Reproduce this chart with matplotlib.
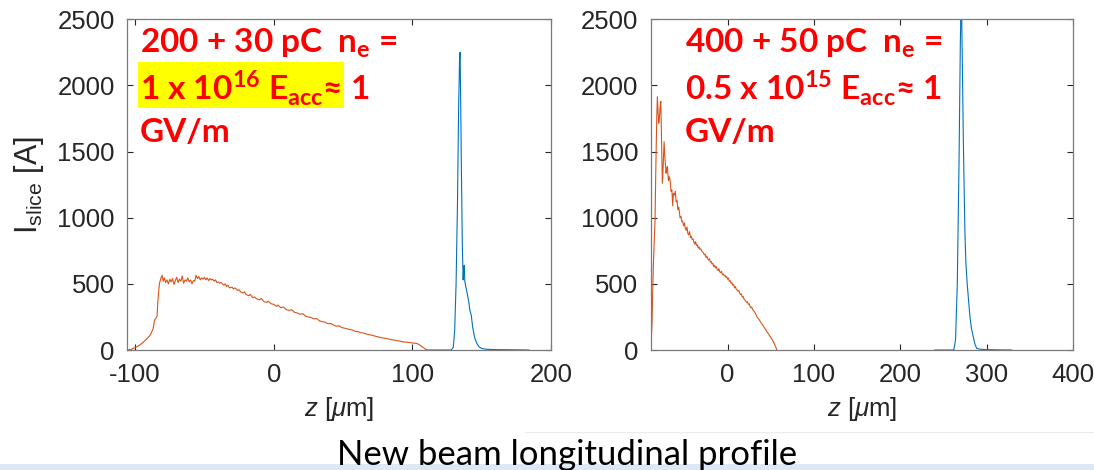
import matplotlib
matplotlib.use('Agg')
import matplotlib.pyplot as plt
from matplotlib.patches import Rectangle
from matplotlib.lines import Line2D

# ---- data ----
# left panel: 200 + 30 pC
drive_z_a = [-105.6, -103, -100, -97, -94, -91, -89, -87, -86, -85, -84.2, -83.5, -82.5, -81.5,
             -80.5, -79.8, -79, -78, -77, -76, -75, -74, -73, -72, -71, -70, -69, -68, -67, -66,
             -65, -64, -63, -62, -61, -60, -59, -58, -57, -56, -55, -54, -53, -52, -51, -50, -49,
             -48, -47, -46, -45, -44, -43, -42, -41, -40, -39, -38, -36, -35, -34, -33, -32, -30,
             -29, -28, -26, -25, -24, -22, -21, -20, -18, -17, -15, -14, -12, -10, -9, -7, -5, -4,
             -2, 0, 2, 3, 5, 7, 9, 11, 13, 15, 17, 19, 21, 23, 25, 27, 29, 31, 33, 35, 37, 39, 41,
             43, 45, 47, 49, 51, 53, 55, 57, 59, 61, 63, 65, 67, 69, 71, 73, 75, 77, 79, 81, 83, 85,
             87, 89, 91, 93, 95, 97, 99, 101, 103, 105, 107, 109, 110]
drive_i_a = [0, 5, 18, 35, 60, 90, 115, 160, 225, 240, 255, 380, 500, 540,
             565, 520, 545, 510, 530, 500, 535, 515, 540, 495, 525, 550, 510, 535, 520, 560,
             505, 530, 520, 545, 515, 530, 500, 525, 520, 565, 540, 555, 530, 545, 535, 550, 530,
             545, 525, 540, 530, 535, 520, 530, 510, 515, 505, 510, 490, 500, 480, 490, 470, 475,
             460, 470, 450, 455, 440, 430, 440, 420, 410, 420, 395, 400, 385, 380, 390, 365, 360, 370,
             350, 345, 330, 340, 320, 325, 305, 300, 305, 285, 280, 270, 275, 255, 250, 245, 235, 238,
             220, 215, 210, 200, 200, 190, 180, 183, 170, 165, 160, 155, 150, 140, 138, 130, 128, 120,
             115, 112, 105, 100, 95, 90, 88, 82, 78, 75, 70, 68, 62, 60, 58, 55, 52, 50, 40, 25, 10, 0]

witness_z_a = [110, 128, 129.5, 130.5, 131.5, 132.5, 133.3, 134, 134.4, 134.8, 135.3, 136, 136.6,
               137, 137.4, 137.8, 138.5, 139.5, 140.5, 141.5, 142.5, 143.5, 145, 146.5, 148, 150,
               153, 160, 170, 184]
witness_i_a = [0, 0, 20, 150, 500, 1100, 1800, 2200, 2250, 1900, 1400, 800, 530,
               610, 640, 520, 480, 430, 370, 300, 260, 170, 90, 50, 25, 12,
               6, 3, 2, 0]

# right panel: 400 + 50 pC
drive_z_b = [-89, -87.5, -86, -85, -84, -83, -82, -81.3, -80.5, -79.7, -79, -78, -77.3, -76.5,
             -75.5, -74.5, -73.5, -72.5, -71.2, -70.5, -69.7, -68.5, -67.5, -66.6, -65.5, -64.5,
             -63.5, -62.7, -61.5, -60.5, -59.5, -58.5, -57.5, -56.5,
             -55, -54, -53, -52, -51, -50, -49, -48, -47, -46, -45, -44, -43, -42, -41, -40, -39,
             -38, -37, -36, -35, -34, -33, -32, -31, -30, -29, -28, -27, -26, -25, -24, -23, -22,
             -21, -20, -19, -18, -17, -16, -15, -14, -13, -12, -11, -10, -9, -8, -7, -6, -5, -4,
             -3, -2, -1, 0, 1, 2, 3, 4, 5, 6, 7, 8, 9, 10, 11, 12, 13, 14, 15, 16, 17, 18, 19, 20,
             21, 22, 23, 24, 25, 26, 27, 28, 29, 30, 31, 32, 33, 34, 36, 38, 40, 42, 44, 46, 48,
             50, 52, 54, 56, 57]
drive_i_b = [0, 200, 630, 800, 980, 1400, 1750, 1915, 1800, 1714, 1750, 1850, 1880, 1600,
             1260, 1400, 1575, 1450, 1336, 1370, 1386, 1280, 1310, 1285, 1200, 1210,
             1090, 1185, 1170, 1200, 1120, 1130, 1060, 1080,
             1000, 1010, 970, 975, 940, 960, 920, 905, 930, 880, 870, 895, 850, 860, 835, 840, 815,
             800, 820, 790, 795, 770, 780, 760, 765, 750, 740, 735, 720, 725, 700, 710, 690, 680,
             690, 665, 670, 650, 655, 630, 640, 620, 630, 610, 600, 615, 590, 585, 595, 570, 575, 560,
             565, 550, 555, 535, 545, 520, 525, 505, 510, 490, 495, 470, 480, 460, 455, 445, 450, 430,
             420, 425, 400, 405, 385, 380, 370, 360, 365, 345, 350, 330, 320, 325, 305, 300, 290, 280,
             265, 250, 235, 215, 195, 175, 155, 135, 115, 95, 75, 50, 20, 0]

witness_z_b = [240, 262, 264, 266, 268, 269.5, 270.6, 271.8, 272.9, 274, 274.9, 276, 277.5, 279,
               280.7, 282.5, 284.5, 286.5, 288.4, 292, 300, 315, 329]
witness_i_b = [0, 0, 80, 500, 1400, 2300, 2750, 2200, 1640, 1200, 880, 650, 500, 380,
               250, 160, 100, 45, 13, 6, 3, 1, 0]

y_ticks = [0, 500, 1000, 1500, 2000, 2500]
x_ticks_a = [-100, 0, 100, 200]
x_ticks_b = [0, 100, 200, 300, 400]

plt.rcParams['font.family'] = ['Liberation Sans', 'DejaVu Sans']
plt.rcParams['axes.unicode_minus'] = False
plt.rcParams['mathtext.fontset'] = 'custom'
plt.rcParams['mathtext.rm'] = 'Liberation Sans'
plt.rcParams['mathtext.it'] = 'Liberation Sans:italic'
plt.rcParams['mathtext.bf'] = 'Lato:bold'

ORANGE = '#D95319'
BLUE = '#0072BD'
RED = '#FF0000'

fig = plt.figure(figsize=(10.94, 4.70), dpi=100)

ax1 = fig.add_axes([0.1164, 0.2553, 0.3873, 0.7036])
ax2 = fig.add_axes([0.5948, 0.2553, 0.3860, 0.7036])

for ax, dz, di, wz, wi, xl, xt in [
        (ax1, drive_z_a, drive_i_a, witness_z_a, witness_i_a, (-105.6, 200), x_ticks_a),
        (ax2, drive_z_b, drive_i_b, witness_z_b, witness_i_b, (-89, 400), x_ticks_b)]:
    ax.plot(wz, wi, color=BLUE, lw=0.8)
    ax.plot(dz, di, color=ORANGE, lw=0.8)
    ax.set_xlim(*xl)
    ax.set_ylim(0, 2500)
    ax.set_xticks(xt)
    ax.set_yticks(y_ticks)
    ax.tick_params(direction='in', length=4, width=0.8, top=True, right=True,
                   labelsize=18.5, colors='#262626', pad=9)
    for s in ax.spines.values():
        s.set_color('#7a7a7a')
        s.set_linewidth(0.9)
    ax.set_xlabel(r'$z$ [$\mu$m]', fontsize=18.5, color='#262626', labelpad=6)

ax1.set_ylabel(r'I$_{\rm slice}$ [A]', fontsize=22, color='#262626', labelpad=8)

# red annotations
txt_font = ['Lato', 'DejaVu Sans']
fig.patches.append(Rectangle((138.4 / 1094, 1 - 108 / 470), (344.3 - 138.4) / 1094, (108 - 61.8) / 470,
                             transform=fig.transFigure, facecolor='#FFFF00', edgecolor='none', zorder=3))
lines_a = [r'200 + 30 pC  n$_\mathbf{e}$ =',
           r'1 x 10$^\mathbf{16}$ E$_\mathbf{acc}$≈ 1',
           'GV/m']
lines_b = [r'400 + 50 pC  n$_\mathbf{e}$ =',
           r'0.5 x 10$^\mathbf{15}$ E$_\mathbf{acc}$≈ 1',
           'GV/m']
ys = [43, 88, 132]
for x0, lines in [(139.8, lines_a), (685.2, lines_b)]:
    for y0, t in zip(ys, lines):
        fig.text(x0 / 1094, 1 - y0 / 470, t, color=RED, fontsize=24, fontweight='bold',
                 family=txt_font, ha='left', va='center', zorder=4)

# slide footer
fig.add_artist(Line2D([525 / 1094, 1], [1 - 432 / 470, 1 - 432 / 470], color='#ececec', lw=0.8))
fig.patches.append(Rectangle((0, 0), 1, 6 / 470, transform=fig.transFigure,
                             facecolor='#dde8f4', edgecolor='none'))
fig.text(567 / 1094, 1 - 465 / 470, 'New beam longitudinal profile', fontsize=25,
         family=['Lato', 'DejaVu Sans'], ha='center', va='baseline', color='black')

fig.savefig('out.png', dpi=100)
